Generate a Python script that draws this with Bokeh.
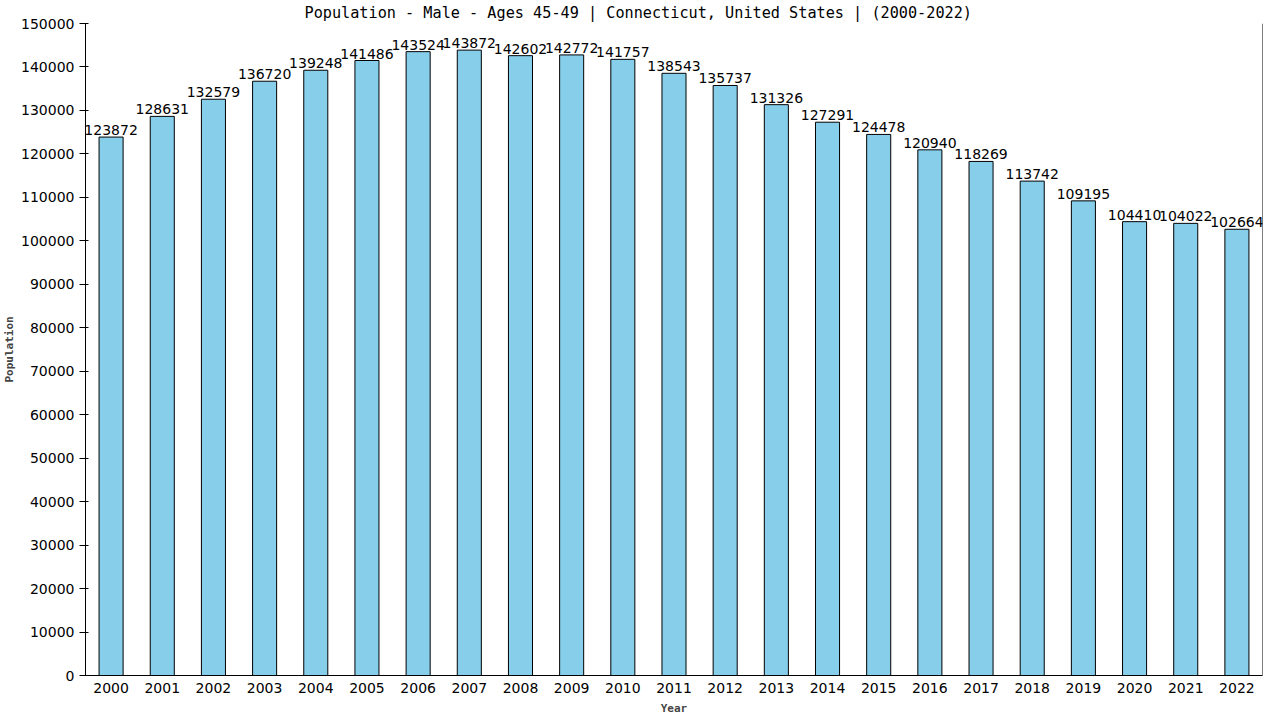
from bokeh.plotting import figure
from bokeh.models import Range1d, FactorRange, FixedTicker, BasicTickFormatter, ColumnDataSource, Span
from bokeh.core.properties import value
from bokeh.embed import file_html
from bokeh.resources import INLINE

years = [str(y) for y in range(2000, 2023)]
population = [123872, 128631, 132579, 136720, 139248, 141486, 143524, 143872, 142602,
              142772, 141757, 138543, 135737, 131326, 127291, 124478, 120940, 118269,
              113742, 109195, 104410, 104022, 102664]
y_ticks = list(range(0, 150001, 10000))
title_text = "Population - Male - Ages 45-49 | Connecticut, United States |  (2000-2022)"

src = ColumnDataSource(dict(year=years, pop=population, lab=[str(v) for v in population]))

p = figure(frame_width=1177, frame_height=652, x_range=FactorRange(*years), y_range=Range1d(0, 150000),
           output_backend="svg", toolbar_location=None,
           min_border_left=85, min_border_right=7, min_border_top=23, min_border_bottom=30)
p.outline_line_color = None
p.grid.grid_line_color = None
p.background_fill_color = "white"
p.border_fill_color = "white"

p.title.text = title_text
p.title.align = "left"
p.title.offset = 219
p.title.standoff = 3
p.title.text_font = "DejaVu Sans Mono"
p.title.text_font_size = "15.2px"
p.title.text_font_style = "normal"
p.title.text_color = "black"

p.vbar(x="year", top="pop", width=0.47, source=src, fill_color="#87CEEB",
       line_color="black", line_width=1)
p.text(x="year", y="pop", text="lab", source=src, text_align="center",
       text_baseline="alphabetic", y_offset=-7, text_font=value("DejaVu Sans"),
       text_font_size="14px", text_color="black")

# right border line of the plotting frame
p.add_layout(Span(location=len(years), dimension="height", line_color="black", line_width=1))

xa = p.xaxis[0]
xa.axis_label = "Year"
xa.axis_label_text_font = "DejaVu Sans Mono"
xa.axis_label_text_font_style = "bold"
xa.axis_label_text_font_size = "11px"
xa.axis_label_standoff = 6
xa.major_label_text_font = "DejaVu Sans"
xa.major_label_text_font_size = "14px"
xa.major_label_standoff = 7
xa.major_tick_line_color = None
xa.major_tick_out = 0
xa.major_tick_in = 0
xa.minor_tick_line_color = None
xa.axis_line_color = "black"
xa.major_label_text_color = "black"

ya = p.yaxis[0]
ya.axis_label = "Population"
ya.axis_label_text_font = "DejaVu Sans Mono"
ya.axis_label_text_font_style = "bold"
ya.axis_label_text_font_size = "11px"
ya.axis_label_standoff = 2
ya.ticker = FixedTicker(ticks=y_ticks)
ya.formatter = BasicTickFormatter(use_scientific=False)
ya.major_label_text_font = "DejaVu Sans"
ya.major_label_text_font_size = "14px"
ya.major_label_standoff = 5
ya.major_tick_out = 6
ya.major_tick_in = 3
ya.major_tick_line_color = "black"
ya.minor_tick_line_color = None
ya.axis_line_color = "black"
ya.major_label_text_color = "black"

open("out.html", "w").write(file_html(p, INLINE))
